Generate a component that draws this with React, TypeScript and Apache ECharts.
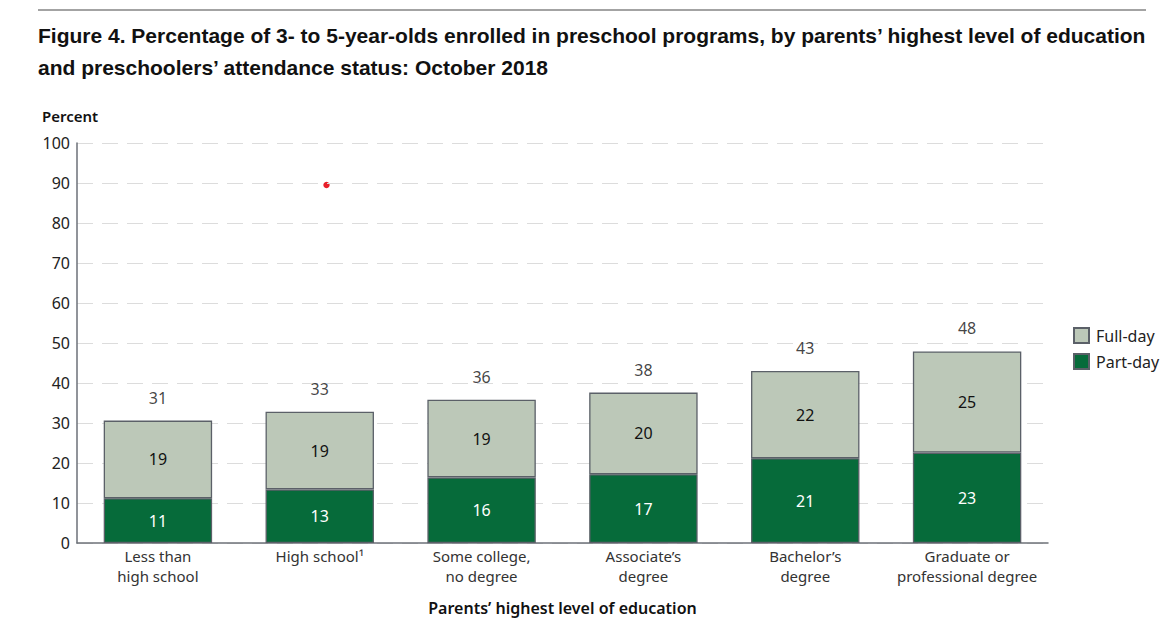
import React, { useEffect, useRef } from 'react';
import * as echarts from 'echarts';

// parents' highest level of education
const categories = [
  'Less than\nhigh school',
  'High school¹',
  'Some college,\nno degree',
  'Associate’s\ndegree',
  'Bachelor’s\ndegree',
  'Graduate or\nprofessional degree',
];

// percent of 3- to 5-year-olds
const partDay = [11.2, 13.4, 16.4, 17.2, 21.2, 22.6];
const fullDay = [19.4, 19.4, 19.4, 20.4, 21.8, 25.3];

const totals = partDay.map((v, i) => v + fullDay[i]);

const yMin = 0;
const yMax = 100;
const yStep = 10;

const titleLines = [
  'Figure 4. Percentage of 3- to 5-year-olds enrolled in preschool programs, by parents’ highest level of education',
  'and preschoolers’ attendance status: October 2018',
];

const FONT = '"Noto Sans", "DejaVu Sans", sans-serif';
const axisColor = '#6d7178';
const barBorder = '#5b6068';

const App: React.FC = () => {
  const chartRef = useRef<HTMLDivElement>(null);

  useEffect(() => {
    if (!chartRef.current) return;
    const chart = echarts.init(chartRef.current, undefined, { renderer: 'svg' });

    const round = (p: any) => String(Math.round(p.value));

    const option: echarts.EChartsOption = {
      animation: false,
      backgroundColor: '#ffffff',
      textStyle: { fontFamily: FONT },
      graphic: [
        {
          type: 'line',
          shape: { x1: 38, y1: 10, x2: 1146, y2: 10 },
          style: { stroke: '#a3a3a3', lineWidth: 2 },
        },
        ...titleLines.map((t, i) => ({
          type: 'text' as const,
          x: 38,
          y: 35 + i * 32,
          style: {
            text: t,
            fill: '#111111',
            font: 'bold 21px "Liberation Sans", Arial, sans-serif',
            verticalAlign: 'middle' as const,
          },
        })),
        {
          type: 'text',
          x: 42,
          y: 116,
          style: {
            text: 'Percent',
            fill: '#111111',
            font: `600 15px ${FONT}`,
            verticalAlign: 'middle',
          },
        },
        {
          type: 'circle',
          shape: { cx: 326.5, cy: 185, r: 3.2 },
          style: { fill: '#e8202a' },
        },
      ],
      legend: {
        data: ['Full-day', 'Part-day'],
        orient: 'vertical',
        left: 1068,
        top: 322,
        itemWidth: 15,
        itemHeight: 15,
        itemGap: 9,
        icon: 'rect',
        textStyle: { fontSize: 16, color: '#222222', fontFamily: FONT, padding: [0, 0, 0, 2] },
      },
      grid: { left: 77, right: 119, top: 143, bottom: 100, containLabel: false },
      xAxis: {
        type: 'category',
        data: categories,
        axisTick: { show: false },
        axisLine: { lineStyle: { color: axisColor, width: 1.5 } },
        axisLabel: {
          interval: 0,
          color: '#333333',
          fontSize: 15,
          lineHeight: 20,
          margin: 3,
          fontFamily: FONT,
        },
        name: 'Parents’ highest level of education',
        nameLocation: 'middle',
        nameGap: 57,
        nameTextStyle: { fontSize: 16, fontWeight: 600, color: '#111111', fontFamily: FONT },
      },
      yAxis: {
        type: 'value',
        min: yMin,
        max: yMax,
        interval: yStep,
        axisLine: { show: true, lineStyle: { color: axisColor, width: 1.5 } },
        axisTick: { show: false },
        axisLabel: { fontSize: 16, color: '#222222', margin: 7, fontFamily: FONT },
        splitLine: { lineStyle: { color: '#dcdcdc', width: 1.2, type: [16, 9] } },
      },
      series: [
        {
          name: 'Part-day',
          type: 'bar',
          stack: 'total',
          data: partDay,
          barWidth: '67%',
          itemStyle: { color: '#066b3a', borderColor: barBorder, borderWidth: 1.3 },
          label: {
            show: true,
            position: 'inside',
            color: '#ffffff',
            fontSize: 16,
            fontFamily: FONT,
            formatter: round,
          },
        },
        {
          name: 'Full-day',
          type: 'bar',
          stack: 'total',
          data: fullDay,
          barWidth: '67%',
          itemStyle: { color: '#bcc8b8', borderColor: barBorder, borderWidth: 1.3 },
          label: {
            show: true,
            position: 'inside',
            color: '#111111',
            fontSize: 16,
            fontFamily: FONT,
            formatter: round,
          },
        },
        {
          name: 'Total',
          type: 'scatter',
          data: totals,
          symbolSize: 0,
          silent: true,
          label: {
            show: true,
            position: 'top',
            distance: 15,
            color: '#111111',
            fontSize: 16,
            fontFamily: FONT,
            formatter: round,
          },
        },
      ],
    };

    chart.setOption(option);
    return () => chart.dispose();
  }, []);

  return (
    <div
      ref={chartRef}
      style={{ position: 'fixed', left: 0, top: 0, width: 1167, height: 643 }}
    />
  );
};

export default App;
